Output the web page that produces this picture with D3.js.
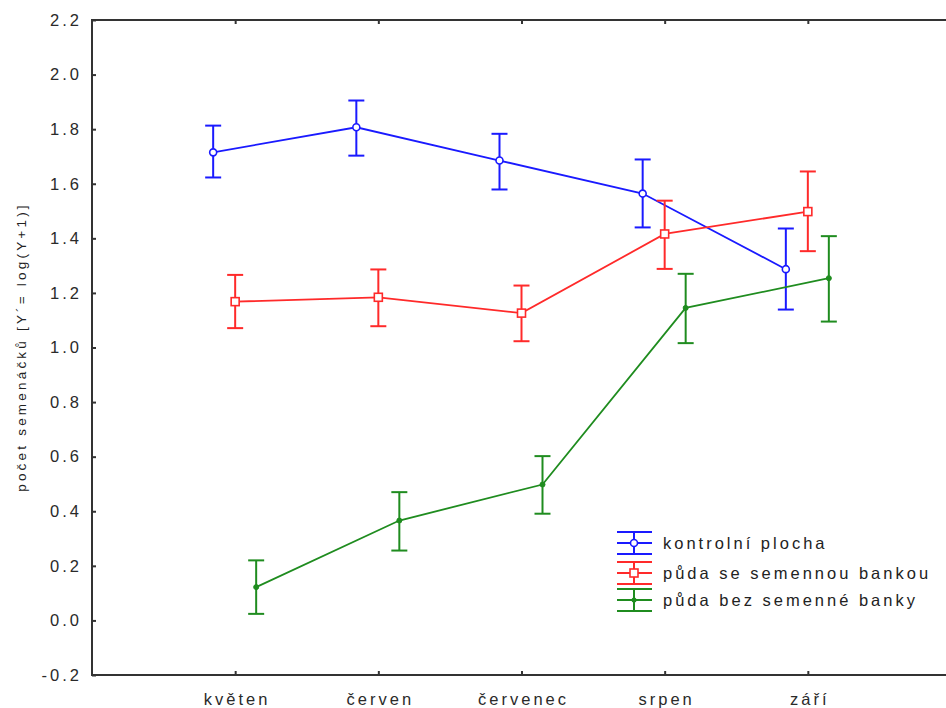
<!DOCTYPE html>
<html><head><meta charset="utf-8">
<script src="https://cdn.jsdelivr.net/npm/d3@7"></script>
<style>body{margin:0;background:#fff}svg{display:block}text{font-family:"Liberation Sans",Arial,sans-serif}</style>
</head><body>
<svg id="c" width="946" height="708"></svg>
<script>
const categories = ["květen","červen","červenec","srpen","září"];
const seriesNames = ["kontrolní plocha","půda se semennou bankou","půda bez semenné banky"];
const meanKontrol = [1.715,1.807,1.685,1.564,1.287];
const lowKontrol  = [1.623,1.703,1.579,1.440,1.139];
const highKontrol = [1.813,1.905,1.783,1.689,1.436];
const meanBanka = [1.168,1.184,1.126,1.416,1.498];
const lowBanka  = [1.071,1.078,1.023,1.288,1.353];
const highBanka = [1.266,1.286,1.227,1.538,1.645];
const meanBez = [0.122,0.366,0.498,1.145,1.254];
const lowBez  = [0.024,0.256,0.391,1.016,1.095];
const highBez = [0.220,0.470,0.602,1.270,1.408];
const yTicks = [-0.2,0.0,0.2,0.4,0.6,0.8,1.0,1.2,1.4,1.6,1.8,2.0,2.2];
const yTitle = "počet semenáčků [Y´= log(Y+1)]";

const series = [
  {name:seriesNames[0], mean:meanKontrol, low:lowKontrol, high:highKontrol, color:"#1a1aff", marker:"circle", off:-22},
  {name:seriesNames[1], mean:meanBanka, low:lowBanka, high:highBanka, color:"#ff2a2a", marker:"square", off:0},
  {name:seriesNames[2], mean:meanBez, low:lowBez, high:highBez, color:"#1f8c1f", marker:"dot", off:21}
];

const svg = d3.select("#c");
const L=92, R=951, T=20, B=675;
const x = d3.scaleLinear().domain([-1,5]).range([L,R]);
const y = d3.scaleLinear().domain([-0.2,2.2]).range([B,T]);
const axisColor="#333";
const fs=16.5, ls="3px";

// frame
svg.append("rect").attr("x",L).attr("y",T).attr("width",R-L).attr("height",B-T)
  .attr("fill","none").attr("stroke",axisColor).attr("stroke-width",2);

const fmt = d => d3.format(".1f")(d).replace("\u2212","-");
const yl = svg.append("g").attr("transform",`translate(${L},0)`)
  .call(d3.axisLeft(y).tickValues(yTicks).tickSize(-4).tickPadding(10).tickFormat(fmt));
const yr = svg.append("g").attr("transform",`translate(${R},0)`)
  .call(d3.axisRight(y).tickValues(yTicks).tickSize(-4).tickFormat(""));
const xb = svg.append("g").attr("transform",`translate(0,${B})`)
  .call(d3.axisBottom(x).tickValues(d3.range(categories.length)).tickSize(-4).tickPadding(18).tickFormat(i=>categories[i]));
const xt = svg.append("g").attr("transform",`translate(0,${T})`)
  .call(d3.axisTop(x).tickValues(d3.range(categories.length)).tickSize(-4).tickFormat(""));
[yl,yr,xb,xt].forEach(g=>{
  g.select(".domain").remove();
  g.selectAll(".tick line").attr("stroke",axisColor).attr("stroke-width",2);
  g.selectAll(".tick text").attr("fill","#2a2a2a").attr("font-size",fs).attr("font-family","'Liberation Sans',Arial,sans-serif").style("letter-spacing",ls);
});
xb.selectAll(".tick text").attr("dx","1.5");

// y title
svg.append("text").attr("transform",`translate(25.5,${347}) rotate(-90)`)
  .attr("text-anchor","middle").attr("font-size",13.5).attr("fill","#222").style("letter-spacing","3.2px").text(yTitle);

// series
const cap=8;
series.forEach(s=>{
  const g = svg.append("g");
  const px = i=>x(i)+s.off;
  g.append("path").attr("d", d3.line().x((d,i)=>px(i)).y(d=>y(d))(s.mean))
    .attr("fill","none").attr("stroke",s.color).attr("stroke-width",1.8);
  s.mean.forEach((m,i)=>{
    const cx=px(i);
    g.append("line").attr("x1",cx).attr("x2",cx).attr("y1",y(s.low[i])).attr("y2",y(s.high[i])).attr("stroke",s.color).attr("stroke-width",2);
    [s.low[i],s.high[i]].forEach(v=>g.append("line").attr("x1",cx-cap).attr("x2",cx+cap).attr("y1",y(v)).attr("y2",y(v)).attr("stroke",s.color).attr("stroke-width",2));
    if(s.marker==="circle") g.append("circle").attr("cx",cx).attr("cy",y(m)).attr("r",3.5).attr("fill","#fff").attr("stroke",s.color).attr("stroke-width",1.6);
    else if(s.marker==="square") g.append("rect").attr("x",cx-4).attr("y",y(m)-4).attr("width",8).attr("height",8).attr("fill","#fff").attr("stroke",s.color).attr("stroke-width",1.6);
    else g.append("circle").attr("cx",cx).attr("cy",y(m)).attr("r",2.5).attr("fill",s.color).attr("stroke",s.color).attr("stroke-width",1);
  });
});

// legend
const legY=[543,573,600];
series.forEach((s,k)=>{
  const g=svg.append("g").attr("transform",`translate(634,${legY[k]})`);
  const h=11;
  g.append("line").attr("x1",-17).attr("x2",18).attr("y1",-h).attr("y2",-h).attr("stroke",s.color).attr("stroke-width",2);
  g.append("line").attr("x1",-17).attr("x2",18).attr("y1",h).attr("y2",h).attr("stroke",s.color).attr("stroke-width",2);
  g.append("line").attr("x1",-17).attr("x2",18).attr("y1",0).attr("y2",0).attr("stroke",s.color).attr("stroke-width",1.8);
  g.append("line").attr("x1",0).attr("x2",0).attr("y1",-h).attr("y2",h).attr("stroke",s.color).attr("stroke-width",2);
  if(s.marker==="circle") g.append("circle").attr("r",3.5).attr("fill","#fff").attr("stroke",s.color).attr("stroke-width",1.6);
  else if(s.marker==="square") g.append("rect").attr("x",-4).attr("y",-4).attr("width",8).attr("height",8).attr("fill","#fff").attr("stroke",s.color).attr("stroke-width",1.6);
  else g.append("circle").attr("r",2.5).attr("fill",s.color);
  svg.append("text").attr("x",663).attr("y",legY[k]).attr("dy","0.35em").attr("font-size",fs)
    .attr("fill","#222").style("letter-spacing",ls).text(s.name);
});
</script>
</body></html>
